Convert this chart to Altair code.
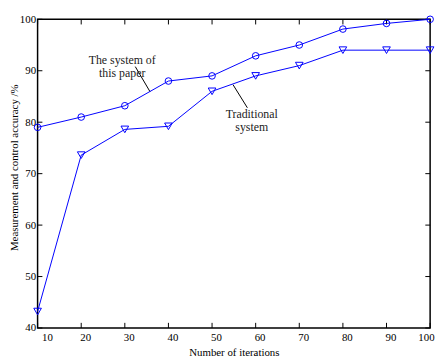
import altair as alt
import pandas as pd

iterations = [10, 20, 30, 40, 50, 60, 70, 80, 90, 100]
this_paper = [79.0, 81.0, 83.2, 88.0, 89.0, 92.9, 95.0, 98.1, 99.2, 100.0]
traditional = [43.2, 73.6, 78.6, 79.2, 86.0, 89.0, 91.0, 94.0, 94.0, 94.0]

x_ticks = [10, 20, 30, 40, 50, 60, 70, 80, 90, 100]
y_ticks = [40, 50, 60, 70, 80, 90, 100]

# annotation leader lines (data coordinates)
ann_x1 = [32.4, 54.8]
ann_y1 = [90.8, 87.3]
ann_x2 = [35.8, 58.1]
ann_y2 = [85.9, 82.8]

ann_text = ["The system of\nthis paper", "Traditional\nsystem"]
ann_tx = [29.4, 59.1]
ann_ty = [92.05, 81.5]

FONT = "Liberation Serif"
BLUE = "#0000ff"

df = pd.DataFrame({"x": iterations, "paper": this_paper, "trad": traditional})
ann = pd.DataFrame({"x1": ann_x1, "y1": ann_y1, "x2": ann_x2, "y2": ann_y2})
txt = pd.DataFrame({"t": ann_text, "x": ann_tx, "y": ann_ty})
xt = pd.DataFrame({"v": x_ticks})
yt = pd.DataFrame({"v": y_ticks})

xs = alt.Scale(domain=[10, 100], nice=False, zero=False)
ys = alt.Scale(domain=[40, 100], nice=False, zero=False)

xax = alt.Axis(values=x_ticks, format="d", ticks=False, domain=False, grid=False,
               labelFont=FONT, labelFontSize=11, labelColor="black", labelPadding=4,
               labelOffset=4,
               title="Number of iterations", titleFont=FONT, titleFontSize=11,
               titleFontWeight="normal", titleColor="black", titleY=25,
               titleBaseline="middle")
yax = alt.Axis(values=y_ticks, format="d", ticks=False, domain=False, grid=False,
               labelFont=FONT, labelFontSize=11, labelColor="black", labelPadding=2,
               title="Measurement and control accuracy /%", titleFont=FONT,
               titleFontSize=11, titleFontWeight="normal", titleColor="black",
               titleX=-23, titleY=150, titleBaseline="middle")

base = alt.Chart(df)

paper_line = base.mark_line(color=BLUE, strokeWidth=1).encode(
    x=alt.X("x:Q", scale=xs, axis=xax), y=alt.Y("paper:Q", scale=ys, axis=yax))
paper_pts = base.mark_point(shape="circle", filled=False, color=BLUE, size=45,
                            strokeWidth=1, opacity=1).encode(
    x=alt.X("x:Q", scale=xs), y=alt.Y("paper:Q", scale=ys))
trad_line = base.mark_line(color=BLUE, strokeWidth=1).encode(
    x=alt.X("x:Q", scale=xs), y=alt.Y("trad:Q", scale=ys))
trad_pts = base.mark_point(shape="triangle-down", filled=False, color=BLUE, size=60,
                           strokeWidth=1, opacity=1).encode(
    x=alt.X("x:Q", scale=xs), y=alt.Y("trad:Q", scale=ys))

leaders = alt.Chart(ann).mark_rule(color="black", strokeWidth=1).encode(
    x=alt.X("x1:Q", scale=xs), y=alt.Y("y1:Q", scale=ys),
    x2="x2:Q", y2="y2:Q")

labels = alt.Chart(txt).mark_text(font=FONT, fontSize=12, color="#222222",
                                  lineBreak="\n", lineHeight=13,
                                  baseline="middle", align="center").encode(
    x=alt.X("x:Q", scale=xs), y=alt.Y("y:Q", scale=ys), text="t:N")

# inward ticks on all four sides
tick_b = alt.Chart(xt).mark_rule(color="black", strokeWidth=1).encode(
    x=alt.X("v:Q", scale=xs), y=alt.datum(40, scale=ys), y2=alt.datum(41))
tick_t = alt.Chart(xt).mark_rule(color="black", strokeWidth=1).encode(
    x=alt.X("v:Q", scale=xs), y=alt.datum(99, scale=ys), y2=alt.datum(100))
tick_l = alt.Chart(yt).mark_rule(color="black", strokeWidth=1).encode(
    y=alt.Y("v:Q", scale=ys), x=alt.datum(10, scale=xs), x2=alt.datum(11.1))
tick_r = alt.Chart(yt).mark_rule(color="black", strokeWidth=1).encode(
    y=alt.Y("v:Q", scale=ys), x=alt.datum(98.9, scale=xs), x2=alt.datum(100))

chart = alt.layer(
    tick_b, tick_t, tick_l, tick_r, leaders,
    trad_line, trad_pts, paper_line, paper_pts, labels
).properties(
    width=398, height=313,
    autosize=alt.AutoSizeParams(type="none"),
    padding={"left": 30, "top": 9, "right": 9, "bottom": 30},
    background="white",
).configure_view(stroke="black", strokeWidth=1.5)

chart.save("out.html", embed_options={"renderer": "svg", "actions": False})
